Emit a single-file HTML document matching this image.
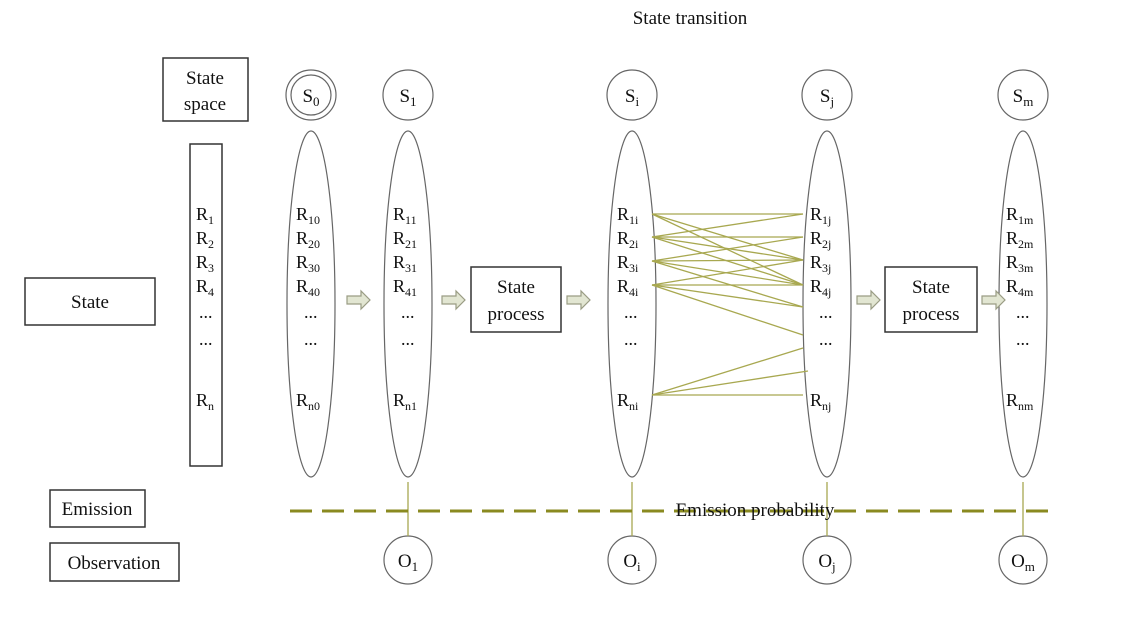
<!DOCTYPE html>
<html><head><style>
body{margin:0;background:#fff}
text{font-family:"Liberation Serif",serif;fill:#111}
</style></head><body>
<svg width="1128" height="614" xmlns="http://www.w3.org/2000/svg" font-size="19">
<g fill="none" stroke="#333" stroke-width="1.5">
<rect x="163" y="58" width="85" height="63"/>
<rect x="190" y="144" width="32" height="322"/>
<rect x="25" y="278" width="130" height="47"/>
<rect x="50" y="490" width="95" height="37"/>
<rect x="50" y="543" width="129" height="38"/>
<rect x="471" y="267" width="90" height="65"/>
<rect x="885" y="267" width="92" height="65"/>
</g>
<g fill="none" stroke="#666" stroke-width="1.2">
<circle cx="311" cy="95" r="25"/><circle cx="311" cy="95" r="20"/>
<circle cx="408" cy="95" r="25"/><circle cx="632" cy="95" r="25"/>
<circle cx="827" cy="95" r="25"/><circle cx="1023" cy="95" r="25"/>
<circle cx="408" cy="560" r="24"/><circle cx="632" cy="560" r="24"/>
<circle cx="827" cy="560" r="24"/><circle cx="1023" cy="560" r="24"/>
<ellipse cx="311" cy="304" rx="24" ry="173"/>
<ellipse cx="408" cy="304" rx="24" ry="173"/>
<ellipse cx="632" cy="304" rx="24" ry="173"/>
<ellipse cx="827" cy="304" rx="24" ry="173"/>
<ellipse cx="1023" cy="304" rx="24" ry="173"/>
</g>
<g stroke="#a8a850" stroke-width="1.3">
<line x1="652" y1="214" x2="803" y2="214"/><line x1="652" y1="214" x2="803" y2="260"/><line x1="652" y1="214" x2="803" y2="285"/>
<line x1="652" y1="237" x2="803" y2="214"/><line x1="652" y1="237" x2="803" y2="237"/><line x1="652" y1="237" x2="803" y2="260"/><line x1="652" y1="237" x2="803" y2="285"/>
<line x1="652" y1="261" x2="803" y2="260"/><line x1="652" y1="261" x2="803" y2="285"/><line x1="652" y1="261" x2="803" y2="307"/><line x1="652" y1="261" x2="803" y2="237"/>
<line x1="652" y1="285" x2="803" y2="260"/><line x1="652" y1="285" x2="803" y2="285"/><line x1="652" y1="285" x2="803" y2="307"/><line x1="652" y1="285" x2="803" y2="335"/>
<line x1="652" y1="395" x2="803" y2="348"/><line x1="652" y1="395" x2="808" y2="371"/><line x1="652" y1="395" x2="803" y2="395"/>
<line x1="408" y1="482" x2="408" y2="536"/><line x1="632" y1="482" x2="632" y2="536"/>
<line x1="827" y1="482" x2="827" y2="536"/><line x1="1023" y1="482" x2="1023" y2="536"/>
</g>
<line x1="290" y1="511" x2="1058" y2="511" stroke="#8a8a20" stroke-width="3" stroke-dasharray="22,10"/>
<g fill="#e2e6d2" stroke="#9a9c84" stroke-width="1.2">
<polygon points="347,296 361,296 361,291 370,300 361,309 361,304 347,304"/>
<polygon points="442,296 456,296 456,291 465,300 456,309 456,304 442,304"/>
<polygon points="567,296 581,296 581,291 590,300 581,309 581,304 567,304"/>
<polygon points="857,296 871,296 871,291 880,300 871,309 871,304 857,304"/>
<polygon points="982,296 996,296 996,291 1005,300 996,309 996,304 982,304"/>
</g>
<text x="690" y="24" text-anchor="middle">State transition</text>
<text x="205" y="84" text-anchor="middle">State</text><text x="205" y="110" text-anchor="middle">space</text>
<text x="90" y="308" text-anchor="middle">State</text>
<text x="97" y="515" text-anchor="middle">Emission</text>
<text x="114" y="569" text-anchor="middle">Observation</text>
<text x="516" y="293" text-anchor="middle">State</text><text x="516" y="320" text-anchor="middle">process</text>
<text x="931" y="293" text-anchor="middle">State</text><text x="931" y="320" text-anchor="middle">process</text>
<text x="755" y="516" text-anchor="middle">Emission probability</text>
<g text-anchor="middle">
<text x="311" y="102">S<tspan font-size="13" dy="4">0</tspan></text>
<text x="408" y="102">S<tspan font-size="13" dy="4">1</tspan></text>
<text x="632" y="102">S<tspan font-size="13" dy="4">i</tspan></text>
<text x="827" y="102">S<tspan font-size="13" dy="4">j</tspan></text>
<text x="1023" y="102">S<tspan font-size="13" dy="4">m</tspan></text>
<text x="408" y="567">O<tspan font-size="13" dy="4">1</tspan></text>
<text x="632" y="567">O<tspan font-size="13" dy="4">i</tspan></text>
<text x="827" y="567">O<tspan font-size="13" dy="4">j</tspan></text>
<text x="1023" y="567">O<tspan font-size="13" dy="4">m</tspan></text>
</g>
<g font-size="18">
<text x="196" y="220">R<tspan font-size="12" dy="4">1</tspan></text><text x="196" y="244">R<tspan font-size="12" dy="4">2</tspan></text><text x="196" y="268">R<tspan font-size="12" dy="4">3</tspan></text><text x="196" y="292">R<tspan font-size="12" dy="4">4</tspan></text><text x="199" y="318">...</text><text x="199" y="345">...</text><text x="196" y="406">R<tspan font-size="12" dy="4">n</tspan></text>
<text x="296" y="220">R<tspan font-size="12" dy="4">10</tspan></text><text x="296" y="244">R<tspan font-size="12" dy="4">20</tspan></text><text x="296" y="268">R<tspan font-size="12" dy="4">30</tspan></text><text x="296" y="292">R<tspan font-size="12" dy="4">40</tspan></text><text x="304" y="318">...</text><text x="304" y="345">...</text><text x="296" y="406">R<tspan font-size="12" dy="4">n0</tspan></text>
<text x="393" y="220">R<tspan font-size="12" dy="4">11</tspan></text><text x="393" y="244">R<tspan font-size="12" dy="4">21</tspan></text><text x="393" y="268">R<tspan font-size="12" dy="4">31</tspan></text><text x="393" y="292">R<tspan font-size="12" dy="4">41</tspan></text><text x="401" y="318">...</text><text x="401" y="345">...</text><text x="393" y="406">R<tspan font-size="12" dy="4">n1</tspan></text>
<text x="617" y="220">R<tspan font-size="12" dy="4">1i</tspan></text><text x="617" y="244">R<tspan font-size="12" dy="4">2i</tspan></text><text x="617" y="268">R<tspan font-size="12" dy="4">3i</tspan></text><text x="617" y="292">R<tspan font-size="12" dy="4">4i</tspan></text><text x="624" y="318">...</text><text x="624" y="345">...</text><text x="617" y="406">R<tspan font-size="12" dy="4">ni</tspan></text>
<text x="810" y="220">R<tspan font-size="12" dy="4">1j</tspan></text><text x="810" y="244">R<tspan font-size="12" dy="4">2j</tspan></text><text x="810" y="268">R<tspan font-size="12" dy="4">3j</tspan></text><text x="810" y="292">R<tspan font-size="12" dy="4">4j</tspan></text><text x="819" y="318">...</text><text x="819" y="345">...</text><text x="810" y="406">R<tspan font-size="12" dy="4">nj</tspan></text>
<text x="1006" y="220">R<tspan font-size="12" dy="4">1m</tspan></text><text x="1006" y="244">R<tspan font-size="12" dy="4">2m</tspan></text><text x="1006" y="268">R<tspan font-size="12" dy="4">3m</tspan></text><text x="1006" y="292">R<tspan font-size="12" dy="4">4m</tspan></text><text x="1016" y="318">...</text><text x="1016" y="345">...</text><text x="1006" y="406">R<tspan font-size="12" dy="4">nm</tspan></text>
</g>
</svg>
</body></html>
